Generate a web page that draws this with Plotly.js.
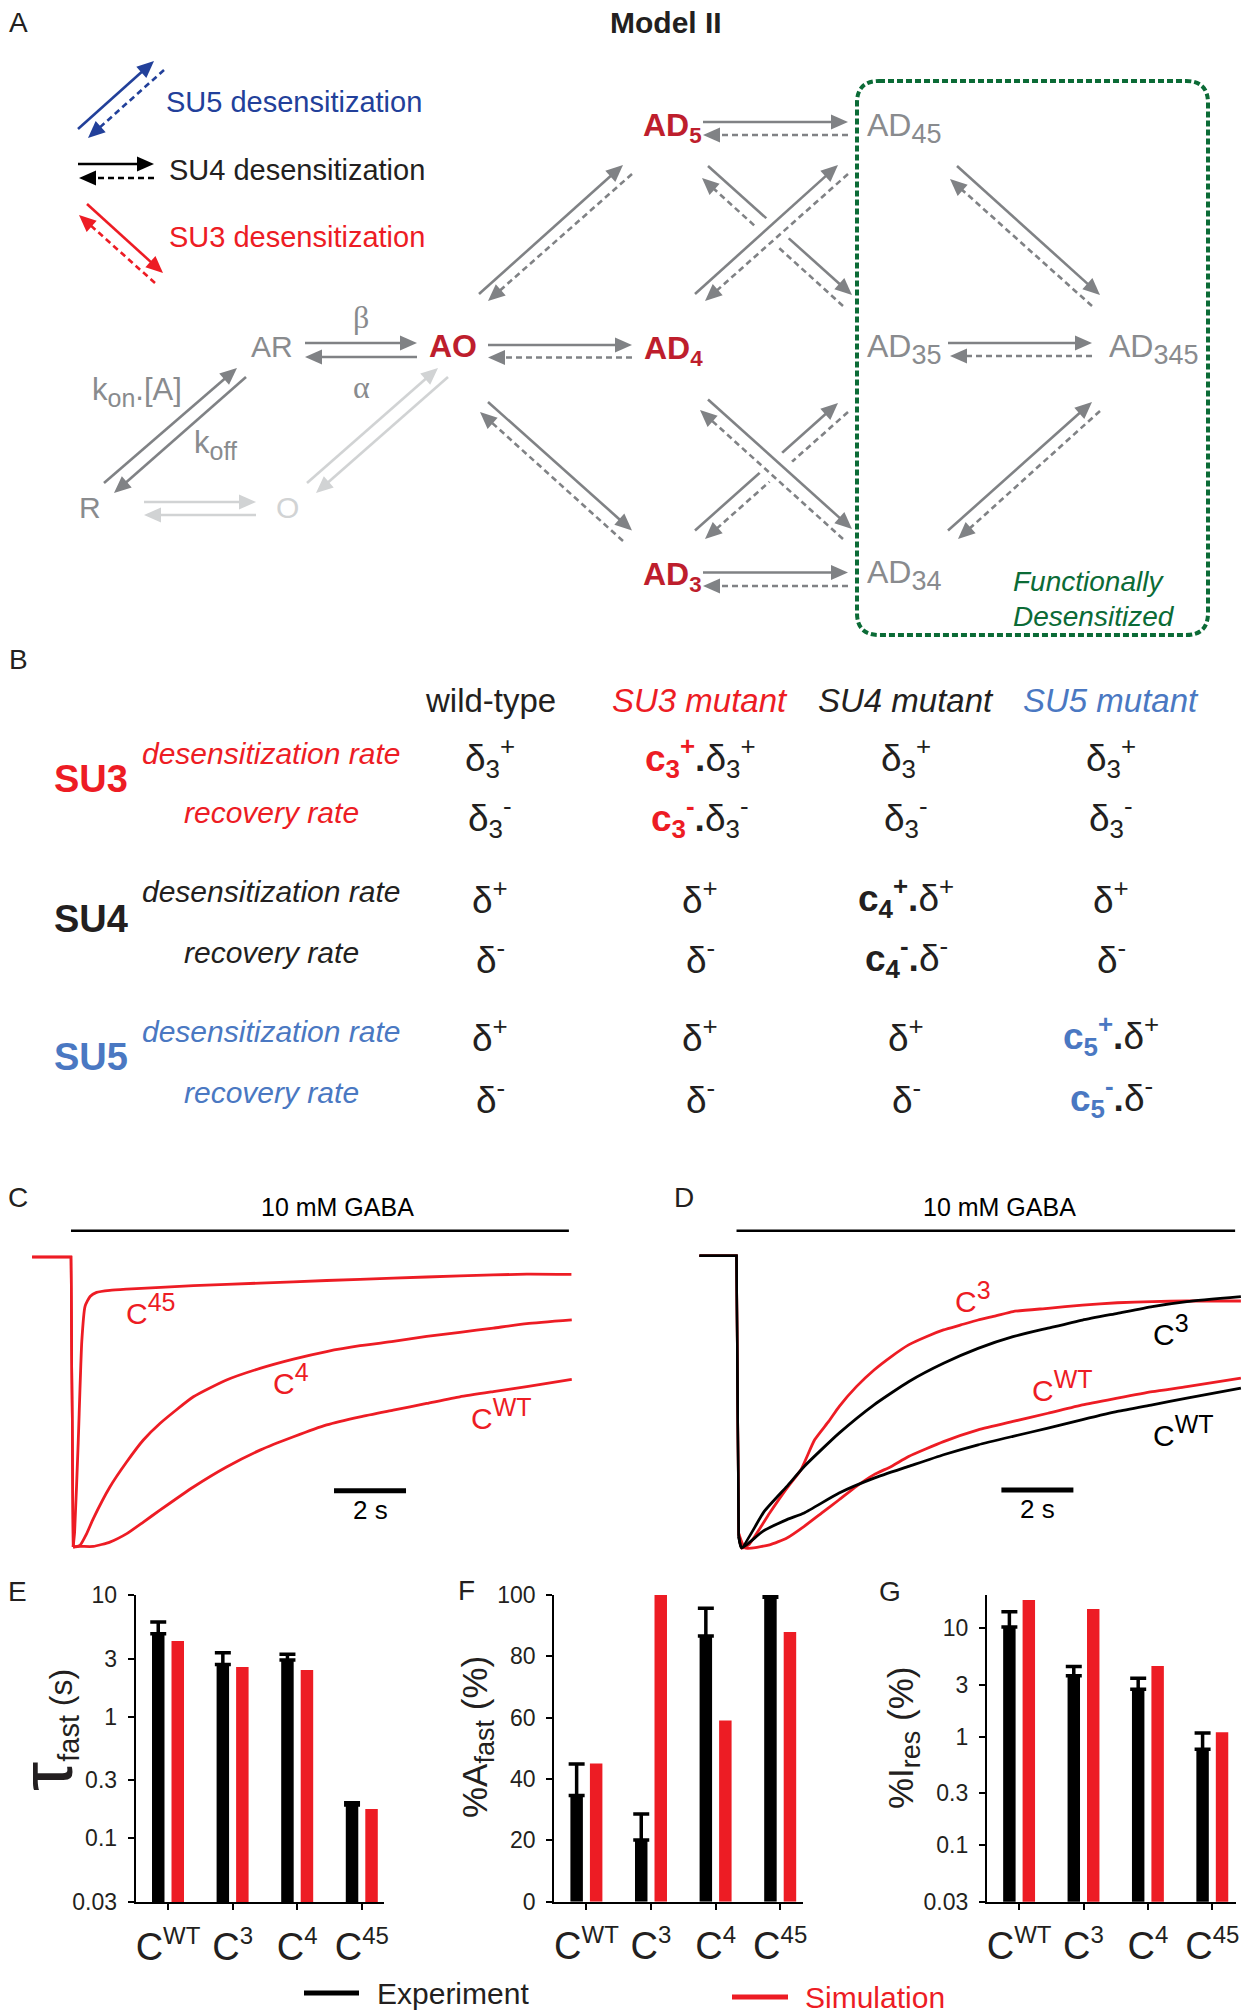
<!DOCTYPE html>
<html><head><meta charset="utf-8">
<script src="https://cdn.plot.ly/plotly-3.0.1.min.js"></script>
<style>html,body{margin:0;padding:0;background:#fff}</style>
</head><body>
<div id="chart" style="width:1243px;height:2011px"></div>
<script>
// ---------------- DATA ----------------
// Panel C: simulated whole-cell currents (normalised, peak = -1) vs time from GABA onset (s)
const cTimeC45 = [-1.08, 0, 0.06, 0.1, 0.2, 0.3, 0.39, 0.53, 0.71, 1.08, 1.55, 3.4, 5.25, 7.1, 8.95, 10.8, 12.66, 13.9];
const cCurrC45 = [0, 0, -1.0, -0.95, -0.64, -0.29, -0.17, -0.136, -0.122, -0.115, -0.111, -0.099, -0.09, -0.081, -0.073, -0.065, -0.059, -0.06];
const cTimeC4 = [-1.08, 0, 0.06, 0.25, 0.435, 0.62, 1.08, 1.55, 2.01, 2.47, 3.4, 4.32, 5.25, 6.18, 7.1, 8.03, 8.95, 9.88, 10.8, 11.73, 12.66, 13.91];
const cCurrC4 = [0, 0, -1.0, -0.994, -0.954, -0.902, -0.793, -0.706, -0.631, -0.574, -0.482, -0.424, -0.384, -0.352, -0.326, -0.306, -0.291, -0.274, -0.26, -0.245, -0.23, -0.217];
const cTimeCWT = [-1.08, 0, 0.06, 0.25, 0.62, 1.08, 1.55, 2.01, 2.47, 3.4, 4.32, 5.25, 6.18, 7.1, 8.03, 8.95, 9.88, 10.8, 11.73, 12.66, 13.91];
const cCurrCWT = [0, 0, -1.0, -0.998, -0.998, -0.983, -0.954, -0.914, -0.873, -0.793, -0.724, -0.666, -0.62, -0.579, -0.551, -0.528, -0.505, -0.482, -0.464, -0.447, -0.422];

// Panel D: simulation (red) vs experiment (black)
const dTimeSimC3 = [-1.03, 0, 0.06, 0.14, 0.34, 0.92, 1.4, 1.79, 2.17, 2.56, 2.85, 3.33, 3.82, 4.3, 4.78, 5.27, 5.75, 6.23, 6.71, 7.2, 7.68, 8.65, 9.61, 10.58, 11.55, 12.51, 14.01];
const dCurrSimC3 = [0, 0, -0.95, -1.0, -0.989, -0.88, -0.795, -0.732, -0.63, -0.567, -0.516, -0.448, -0.391, -0.345, -0.305, -0.277, -0.254, -0.237, -0.22, -0.206, -0.191, -0.18, -0.169, -0.161, -0.157, -0.155, -0.155];
const dTimeSimCWT = [-1.03, 0, 0.06, 0.24, 0.92, 1.4, 1.88, 2.37, 2.85, 3.33, 3.82, 4.3, 4.78, 5.75, 6.71, 7.68, 8.65, 9.61, 10.58, 11.55, 12.51, 14.01];
const dCurrSimCWT = [0, 0, -0.95, -1.0, -0.989, -0.966, -0.926, -0.88, -0.835, -0.789, -0.749, -0.721, -0.687, -0.636, -0.596, -0.567, -0.539, -0.51, -0.487, -0.465, -0.448, -0.419];
const dTimeExpC3 = [-1.03, 0, 0.06, 0.14, 0.77, 1.4, 1.88, 2.85, 3.82, 4.78, 5.75, 6.71, 7.68, 8.65, 9.61, 10.58, 11.55, 12.51, 14.01];
const dCurrExpC3 = [0, 0, -0.96, -1.0, -0.875, -0.789, -0.721, -0.607, -0.51, -0.431, -0.368, -0.317, -0.277, -0.248, -0.22, -0.197, -0.174, -0.157, -0.14];
const dTimeExpCWT = [-1.03, 0, 0.06, 0.14, 0.73, 1.4, 1.88, 2.85, 3.82, 4.78, 5.75, 6.71, 7.68, 8.65, 9.61, 10.58, 11.55, 12.51, 14.01];
const dCurrExpCWT = [0, 0, -0.96, -1.0, -0.943, -0.903, -0.88, -0.812, -0.761, -0.721, -0.681, -0.647, -0.618, -0.59, -0.561, -0.533, -0.51, -0.487, -0.453];

// Panels E-G: bar data
const constructs = ['WT', '3', '4', '45'];
const tauExp = [4.8, 2.69, 2.92, 0.188];
const tauExpErr = [1.2, 0.67, 0.34, 0.008];
const tauSim = [4.19, 2.56, 2.42, 0.174];
const afastExp = [34.6, 20.1, 86.6, 99.3];
const afastExpErr = [10.3, 8.5, 9.1, 0.7];
const afastSim = [45.1, 100, 59.1, 87.9];
const iresExp = [10.3, 3.65, 2.74, 0.764];
const iresExpErr = [3.9, 0.78, 0.72, 0.316];
const iresSim = [18.2, 15.1, 4.49, 1.10];
const logTicks = [0.03, 0.1, 0.3, 1, 3, 10];
const linTicks = [0, 20, 40, 60, 80, 100];

// Panel B: table
const tableColumns = ['wild-type', 'SU3 mutant', 'SU4 mutant', 'SU5 mutant'];
const tableSubunits = ['SU3', 'SU4', 'SU5'];
const tableRates = ['desensitization rate', 'recovery rate'];
const rateSymbols = [['δ<sub>3</sub>', 'δ<sub>3</sub>'], ['δ', 'δ'], ['δ', 'δ']];
const rateSigns = ['+', '-'];
const mutantFactors = ['c<sub>3</sub>', 'c<sub>4</sub>', 'c<sub>5</sub>'];

// ---------------- STYLE / HELPERS ----------------
const W = 1243, H = 2011;
const FONT = 'Liberation Sans, Arial, Helvetica, sans-serif';
const SERIF = 'Liberation Serif, Times New Roman, serif';
const BLACK = '#231F20', RED = '#ED1C24', DARKRED = '#BE1E2D', GRAY = '#808285', GRAYT = '#898B8E',
      LIGHT = '#D1D3D4', BLUE_A = '#22409A', BLUE_B = '#4A78C2', GREEN = '#0B6B36';
const P = x => x / W, Q = y => 1 - y / H;
const shapes = [], annotations = [];

function txt(x, y, text, size, color, opt) {
  opt = opt || {};
  annotations.push({
    xref: 'paper', yref: 'paper', x: P(x), y: Q(y), text: text, showarrow: false,
    xanchor: opt.xanchor || 'center', yanchor: opt.yanchor || 'middle',
    textangle: opt.textangle || 0,
    font: {family: opt.family || FONT, size: size, color: color},
    borderpad: 0
  });
}
function sz(s, size) { return `<span style="font-size:${size}px">${s}</span>`; }

function arrow(x1, y1, x2, y2, color, dashed, lw) {
  lw = lw || 2.6;
  const L = 17, HW = 7.5;
  const dx = x2 - x1, dy = y2 - y1, len = Math.hypot(dx, dy), ux = dx / len, uy = dy / len;
  const bx = x2 - ux * L, by = y2 - uy * L;
  shapes.push({type: 'line', xref: 'paper', yref: 'paper', x0: P(x1), y0: Q(y1), x1: P(bx + ux * 3), y1: Q(by + uy * 3),
    line: {color: color, width: lw, dash: dashed ? '6px,4px' : 'solid'}});
  const lx = bx - uy * HW, ly = by + ux * HW, rx = bx + uy * HW, ry = by - ux * HW;
  shapes.push({type: 'path', xref: 'paper', yref: 'paper',
    path: `M${P(x2)},${Q(y2)} L${P(lx)},${Q(ly)} L${P(rx)},${Q(ry)} Z`,
    fillcolor: color, line: {width: 0}});
}
function halo(x1, y1, x2, y2, w) {
  shapes.push({type: 'line', xref: 'paper', yref: 'paper', x0: P(x1), y0: Q(y1), x1: P(x2), y1: Q(y2),
    line: {color: '#ffffff', width: w}});
}
function hline(x1, x2, y, color, w) {
  shapes.push({type: 'line', xref: 'paper', yref: 'paper', x0: P(x1), y0: Q(y), x1: P(x2), y1: Q(y), line: {color: color, width: w}});
}

// ---------------- PANEL A (scheme) ----------------
txt(18, 23, 'A', 28, BLACK);
txt(666, 23, '<b>Model II</b>', 30, BLACK);
// legend arrows
arrow(78, 129, 154, 61, BLUE_A, false); arrow(164, 70, 88, 138, BLUE_A, true);
arrow(78, 164, 154, 164, '#000000', false); arrow(154, 178, 79, 178, '#000000', true);
arrow(87, 204, 163, 273, RED, false); arrow(155, 283, 79, 215, RED, true);
txt(165, 102, 'SU5 desensitization', 29, BLUE_A, {xanchor: 'left'});
txt(168, 170, 'SU4 desensitization', 29, BLACK, {xanchor: 'left'});
txt(168, 237, 'SU3 desensitization', 29, RED, {xanchor: 'left'});

// left part
arrow(104, 483, 237, 368, GRAY, false); arrow(246, 377, 114, 493, GRAY, false);
arrow(305, 343, 417, 343, GRAY, false); arrow(417, 357, 305, 357, GRAY, false);
arrow(144, 502, 256, 502, LIGHT, false); arrow(256, 515, 144, 515, LIGHT, false);
arrow(307, 483, 438, 368, LIGHT, false); arrow(448, 377, 316, 493, LIGHT, false);
txt(90, 508, 'R', 30, GRAYT);
txt(272, 347, 'AR', 30, GRAYT);
txt(287, 508, 'O', 30, LIGHT);
txt(453, 346, '<b>AO</b>', 32, DARKRED);
txt(361, 317, 'β', 32, GRAYT, {family: SERIF});
txt(361, 387, 'α', 32, GRAYT, {family: SERIF});
txt(91, 392, 'k<sub>' + sz('on', 25) + '</sub>.[A]', 31, GRAYT, {xanchor: 'left'});
txt(193, 445, 'k<sub>' + sz('off', 25) + '</sub>', 31, GRAYT, {xanchor: 'left'});

// AO -> single desensitized
arrow(479, 294, 623, 165, GRAY, false); arrow(632, 174, 488, 301, GRAY, true);
arrow(488, 345, 632, 345, GRAY, false); arrow(632, 357.5, 488, 357.5, GRAY, true);
arrow(488, 402, 632, 530.5, GRAY, false); arrow(623, 541, 480, 412, GRAY, true);
// singles -> doubles
arrow(703, 122, 848, 122, GRAY, false); arrow(848, 135, 703, 135, GRAY, true);
arrow(703, 572.5, 848, 572.5, GRAY, false); arrow(848, 586, 703, 586, GRAY, true);
// crosses: lower-layer arrows first
arrow(708, 166, 852, 295, GRAY, false); arrow(843, 306, 702, 178, GRAY, true);
arrow(695, 530.5, 838, 403, GRAY, false); arrow(848, 412, 705, 539, GRAY, true);
halo(746, 256, 797, 211, 30);
halo(751, 445, 799, 488, 30);
arrow(695, 294, 838, 165, GRAY, false); arrow(848, 174, 705, 301, GRAY, true);
arrow(708, 399.5, 852, 529, GRAY, false); arrow(843, 539, 700, 410, GRAY, true);
// doubles -> triple
arrow(957, 166, 1100, 295, GRAY, false); arrow(1092, 306, 950, 179, GRAY, true);
arrow(948, 343, 1092, 343, GRAY, false); arrow(1092, 356, 950, 356, GRAY, true);
arrow(948, 530.5, 1092, 402, GRAY, false); arrow(1100, 411, 958, 539, GRAY, true);

txt(642, 128, '<b>AD<sub>5</sub></b>', 32, DARKRED, {xanchor: 'left'});
txt(643, 350, '<b>AD<sub>4</sub></b>', 32, DARKRED, {xanchor: 'left'});
txt(642, 576, '<b>AD<sub>3</sub></b>', 32, DARKRED, {xanchor: 'left'});
txt(866, 128, 'AD<sub>' + sz('45', 27) + '</sub>', 32, GRAYT, {xanchor: 'left'});
txt(866, 349, 'AD<sub>' + sz('35', 27) + '</sub>', 32, GRAYT, {xanchor: 'left'});
txt(866, 575, 'AD<sub>' + sz('34', 27) + '</sub>', 32, GRAYT, {xanchor: 'left'});
txt(1108, 349, 'AD<sub>' + sz('345', 27) + '</sub>', 32, GRAYT, {xanchor: 'left'});

// functionally desensitized box
(function () {
  const x0 = 857, x1 = 1208, y0 = 81, y1 = 635, r = 22;
  const p = (x, y) => `${P(x)},${Q(y)}`;
  const path = `M${p(x0 + r, y0)} L${p(x1 - r, y0)} Q${p(x1, y0)} ${p(x1, y0 + r)} L${p(x1, y1 - r)} Q${p(x1, y1)} ${p(x1 - r, y1)} ` +
    `L${p(x0 + r, y1)} Q${p(x0, y1)} ${p(x0, y1 - r)} L${p(x0, y0 + r)} Q${p(x0, y0)} ${p(x0 + r, y0)} Z`;
  shapes.push({type: 'path', xref: 'paper', yref: 'paper', path: path, line: {color: GREEN, width: 4, dash: '6px,3px'}});
})();
txt(1012, 581, '<i>Functionally</i>', 28, GREEN, {xanchor: 'left'});
txt(1012, 616, '<i>Desensitized</i>', 28, GREEN, {xanchor: 'left'});

// ---------------- PANEL B (table) ----------------
txt(18, 659, 'B', 28, BLACK);
const colX = [490, 700, 906, 1111];
const colColors = [BLACK, RED, BLACK, BLUE_B];
const subColors = [RED, BLACK, BLUE_B];
const subY = [779, 919, 1057];
const rateY = [[753, 812], [891, 952], [1031, 1092]];
const cellY = [[757, 817], [898, 957], [1035, 1097]];
tableColumns.forEach((c, j) => {
  txt(colX[j], 700, j === 0 ? c : '<i>' + c + '</i>', 33, colColors[j]);
});
tableSubunits.forEach((s, i) => {
  txt(91, subY[i], '<b>' + s + '</b>', 38, subColors[i]);
  tableRates.forEach((r, k) => {
    txt(271, rateY[i][k], '<i>' + r + '</i>', 30, subColors[i]);
    tableColumns.forEach((c, j) => {
      const base = rateSymbols[i][k] + '<sup>' + rateSigns[k] + '</sup>';
      let cell = base;
      if (j === i + 1) {
        cell = `<span style="color:${subColors[i]}"><b>${mutantFactors[i]}<sup>${rateSigns[k]}</sup></b></span><b>.</b>` + base;
      }
      txt(colX[j], cellY[i][k], cell, 37, BLACK);
    });
  });
});

// ---------------- PANELS C / D ----------------
txt(18, 1197, 'C', 28, BLACK);
txt(684, 1197, 'D', 28, BLACK);
const traces = [];
// onset (baseline + fast drop) drawn straight, decay drawn as a smooth curve from the same arrays
function line(t, I, color, xa, ya) {
  traces.push({type: 'scatter', mode: 'lines', x: t.slice(0, 3), y: I.slice(0, 3), xaxis: xa, yaxis: ya,
    line: {color: color, width: 2.4}, hoverinfo: 'skip', showlegend: false});
  traces.push({type: 'scatter', mode: 'lines', x: t.slice(2), y: I.slice(2), xaxis: xa, yaxis: ya,
    line: {color: color, width: 2.8, shape: 'spline', smoothing: 0.5}, hoverinfo: 'skip', showlegend: false});
}
line(cTimeCWT, cCurrCWT, RED, 'x', 'y');
line(cTimeC4, cCurrC4, RED, 'x', 'y');
line(cTimeC45, cCurrC45, RED, 'x', 'y');
line(dTimeSimCWT, dCurrSimCWT, RED, 'x2', 'y2');
line(dTimeSimC3, dCurrSimC3, RED, 'x2', 'y2');
line(dTimeExpCWT, dCurrExpCWT, '#000000', 'x2', 'y2');
line(dTimeExpC3, dCurrExpC3, '#000000', 'x2', 'y2');

// agonist bars & scale bars (axis units: s, normalised current)
[['x', 'y', 13.83, 0.0907, 7.39, 0.172, 7.306, -0.806, -0.872], ['x2', 'y2', 13.85, 0.0855, 7.30, 0.1676, 7.358, -0.8016, -0.8666]]
  .forEach(([xa, ya, tEnd, yBar, tTxt, yTxt, tSb, ySb, ySbTxt]) => {
    shapes.push({type: 'line', xref: xa, yref: ya, x0: 0, x1: tEnd, y0: yBar, y1: yBar, line: {color: '#000', width: 2.6}});
    shapes.push({type: 'line', xref: xa, yref: ya, x0: tSb, x1: tSb + 2, y0: ySb, y1: ySb, line: {color: '#000', width: 5}});
    annotations.push({xref: xa, yref: ya, x: tTxt, y: yTxt, text: '10 mM GABA', showarrow: false, font: {family: FONT, size: 25, color: '#000'}});
    annotations.push({xref: xa, yref: ya, x: tSb + 1, y: ySbTxt, text: '2 s', showarrow: false, font: {family: FONT, size: 26, color: '#000'}});
  });
const supC = s => 'C<sup>' + sz(s, 25) + '</sup>';
txt(125, 1309, supC('45'), 30, RED, {xanchor: 'left'});
txt(272, 1379, supC('4'), 30, RED, {xanchor: 'left'});
txt(470, 1414, supC('WT'), 30, RED, {xanchor: 'left'});
txt(954, 1297, supC('3'), 30, RED, {xanchor: 'left'});
txt(1152, 1330, supC('3'), 30, '#000', {xanchor: 'left'});
txt(1031, 1386, supC('WT'), 30, RED, {xanchor: 'left'});
txt(1152, 1431, supC('WT'), 30, '#000', {xanchor: 'left'});

// ---------------- PANELS E / F / G ----------------
txt(17, 1591, 'E', 28, BLACK);
txt(466, 1590, 'F', 28, BLACK);
txt(890, 1591, 'G', 28, BLACK);
function bars(exp, err, sim, xa, ya) {
  traces.push({type: 'bar', x: constructs, y: exp, xaxis: xa, yaxis: ya, marker: {color: '#000000', line: {width: 0}},
    error_y: {type: 'data', symmetric: false, array: err, arrayminus: err.map(() => 0), color: '#000000', thickness: 3.5, width: 8},
    hoverinfo: 'skip', showlegend: false});
  traces.push({type: 'bar', x: constructs, y: sim, xaxis: xa, yaxis: ya, marker: {color: RED, line: {width: 0}},
    hoverinfo: 'skip', showlegend: false});
}
bars(tauExp, tauExpErr, tauSim, 'x3', 'y3');
bars(afastExp, afastExpErr, afastSim, 'x4', 'y4');
bars(iresExp, iresExpErr, iresSim, 'x5', 'y5');

txt(46, 1730, sz('τ', 74) + '<sub>' + sz('fast', 29) + '</sub> ' + sz('(s)', 32), 32, BLACK, {textangle: -90});
txt(477, 1737, '%A<sub>' + sz('fast', 27) + '</sub> (%)', 35, BLACK, {textangle: -90});
txt(903, 1738, '%I<sub>' + sz('res', 27) + '</sub> (%)', 35, BLACK, {textangle: -90});

// bottom legend
hline(304, 359, 1993, '#000000', 5);
txt(376, 1993, 'Experiment', 30, BLACK, {xanchor: 'left'});
hline(732, 788, 1997, RED, 5);
txt(804, 1997, 'Simulation', 30, RED, {xanchor: 'left'});

// ---------------- LAYOUT ----------------
const dom = (a, b) => [a / W, b / W];
const domY = (top, bot) => [1 - bot / H, 1 - top / H];
const catTickText = constructs.map(c => 'C<sup>' + sz(c, 24) + '</sup>');
function catAxis(d, r, anchor) {
  return {domain: d, type: 'category', range: r, anchor: anchor, showline: true, linecolor: '#000', linewidth: 2,
    ticks: 'outside', ticklen: 6, tickwidth: 2, tickcolor: '#000', tickvals: constructs, ticktext: catTickText,
    tickfont: {family: FONT, size: 38, color: BLACK}, showgrid: false, zeroline: false, fixedrange: true, ticklabelstandoff: 4};
}
function valAxis(d, type, r, tv, anchor) {
  return {domain: d, type: type, range: r, anchor: anchor, showline: true, linecolor: '#000', linewidth: 2,
    ticks: 'outside', ticklen: 6, tickwidth: 2, tickcolor: '#000', tickvals: tv, ticktext: tv.map(String),
    tickfont: {family: FONT, size: 23, color: BLACK}, showgrid: false, zeroline: false, fixedrange: true, ticklabelstandoff: 6};
}
const layout = {
  width: W, height: H, margin: {l: 0, r: 0, t: 0, b: 0}, paper_bgcolor: '#ffffff', plot_bgcolor: 'rgba(0,0,0,0)',
  showlegend: false, barmode: 'group', bargap: 0.396, bargroupgap: 0.36, font: {family: FONT, color: BLACK},
  xaxis: {domain: dom(0, 600), range: [-1.972, 14.694], visible: false, fixedrange: true, anchor: 'y'},
  yaxis: {domain: domY(1180, 1570), range: [-1.0793, 0.2655], visible: false, fixedrange: true, anchor: 'x'},
  xaxis2: {domain: dom(640, 1243), range: [-2.681, 14.069], visible: false, fixedrange: true, anchor: 'y2'},
  yaxis2: {domain: domY(1180, 1570), range: [-1.0753, 0.259], visible: false, fixedrange: true, anchor: 'x2'},
  xaxis3: catAxis(dom(135.7, 384.4), [-0.5, 3.35], 'y3'),
  yaxis3: valAxis(domY(1595, 1902), 'log', [Math.log10(0.03), 1], logTicks, 'x3'),
  xaxis4: catAxis(dom(554.1, 802.8), [-0.5, 3.35], 'y4'),
  yaxis4: valAxis(domY(1595, 1901.7), 'linear', [0, 100], linTicks, 'x4'),
  xaxis5: catAxis(dom(986.9, 1235.5), [-0.5, 3.36], 'y5'),
  yaxis5: valAxis(domY(1595, 1901.7), 'log', [Math.log10(0.03), 1.307], logTicks, 'x5'),
  shapes: shapes, annotations: annotations
};
Plotly.newPlot('chart', traces, layout, {staticPlot: true, displayModeBar: false});
</script>
</body></html>
